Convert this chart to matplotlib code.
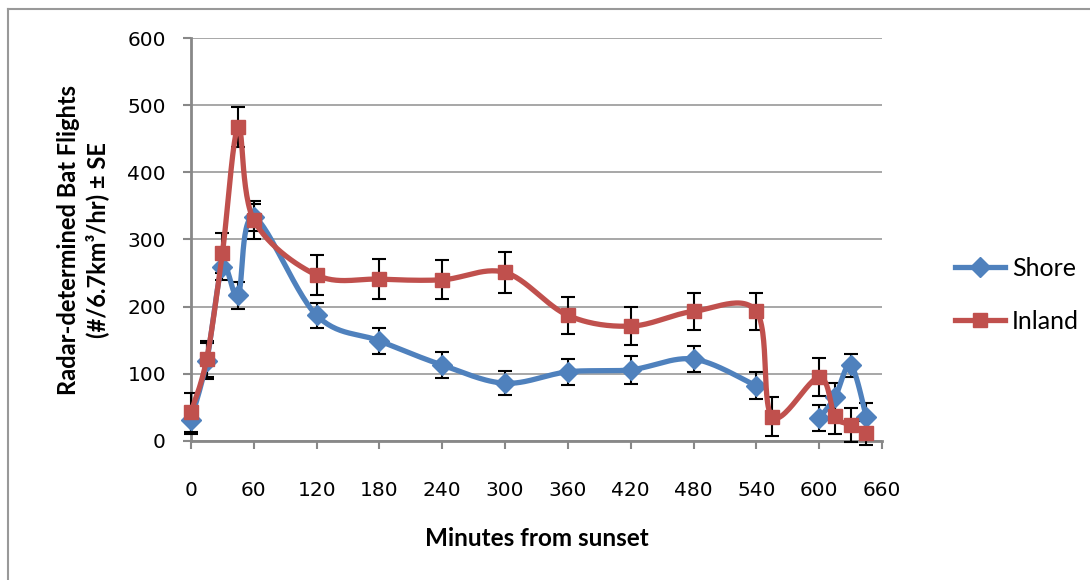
import numpy as np
import matplotlib.pyplot as plt
from matplotlib.lines import Line2D

plt.rcParams['font.family'] = ['Lato', 'DejaVu Sans']

# minutes from sunset (shore has no value at 555, so its line breaks there)
shore_x = [0, 15, 30, 45, 60, 120, 180, 240, 300, 360, 420, 480, 540, 555, 600, 615, 630, 645]
shore_y = [31, 119, 259, 217, 333, 187, 149, 113, 86, 103, 106, 122, 82, np.nan, 34, 65, 113, 36]
shore_se = [20, 27, 20, 20, 20, 19, 19, 19, 18, 19, 21, 20, 20, np.nan, 19, 22, 17, 21]

inland_x = [0, 15, 30, 45, 60, 120, 180, 240, 300, 360, 420, 480, 540, 555, 600, 615, 630, 645]
inland_y = [43, 122, 280, 467, 329, 247, 241, 240, 251, 187, 171, 193, 193, 36, 95, 37, 24, 12]
inland_se = [29, 27, 30, 30, 28, 30, 30, 29, 30, 28, 28, 28, 28, 29, 28, 27, 25, 18]

x_ticks = list(range(0, 661, 60))
y_ticks = list(range(0, 601, 100))

blue = '#4F81BD'
red = '#C0504D'


def smooth(ax, xs, ys, n=30):
    # excel style smoothed line: catmull-rom bezier in screen space
    ax.figure.canvas.draw()
    pts = ax.transData.transform(np.column_stack([xs, ys]))
    out = [pts[0]]
    for i in range(len(pts) - 1):
        p0 = pts[i - 1] if i > 0 else pts[i]
        p1 = pts[i]
        p2 = pts[i + 1]
        p3 = pts[i + 2] if i + 2 < len(pts) else pts[i + 1]
        c1 = p1 + (p2 - p0) / 6.0
        c2 = p2 - (p3 - p1) / 6.0
        t = np.linspace(0, 1, n)[1:, None]
        seg = ((1 - t) ** 3) * p1 + 3 * ((1 - t) ** 2) * t * c1 + 3 * (1 - t) * t ** 2 * c2 + t ** 3 * p2
        out.extend(seg)
    return ax.transData.inverted().transform(np.array(out))


def draw_series(ax, xs, ys, color, marker, z):
    xs = np.asarray(xs, float)
    ys = np.asarray(ys, float)
    ok = ~np.isnan(ys)
    # split into runs without gaps
    runs = np.split(np.arange(len(ys)), np.where(~ok)[0])
    for r in runs:
        r = r[ok[r]]
        if len(r) < 2:
            continue
        c = smooth(ax, xs[r], ys[r])
        ax.plot(c[:, 0], c[:, 1], color=color, lw=3.8, zorder=z, clip_on=False, solid_capstyle='round')
    ax.plot(xs[ok], ys[ok], ls='none', marker=marker, ms=10, color=color, zorder=z + 1, clip_on=False)


fig = plt.figure(figsize=(10.9, 5.8), dpi=100)
ax = fig.add_axes([191 / 1090, 1 - 441 / 580, (882 - 191) / 1090, (441 - 38) / 580])

ax.set_xlim(0, 660)
ax.set_ylim(0, 600)
ax.set_xticks(x_ticks)
ax.set_yticks(y_ticks)
ax.tick_params(axis='both', length=6, width=1.5, color='#888888', direction='out')
ax.tick_params(axis='y', pad=12)
ax.tick_params(axis='x', pad=23)
for lab in ax.get_xticklabels() + ax.get_yticklabels():
    lab.set_fontfamily(['DejaVu Sans'])
    lab.set_fontsize(14.5)
ax.grid(axis='y', color='#A0A0A0', lw=1.3)
ax.set_axisbelow(True)
for s in ['top', 'right']:
    ax.spines[s].set_visible(False)
for s in ['left', 'bottom']:
    ax.spines[s].set_color('#888888')
    ax.spines[s].set_linewidth(2)

ax.errorbar(shore_x, shore_y, yerr=shore_se, fmt='none', ecolor='black', elinewidth=1.5,
            capsize=5, capthick=1.5, zorder=3, clip_on=False)
ax.errorbar(inland_x, inland_y, yerr=inland_se, fmt='none', ecolor='black', elinewidth=1.5,
            capsize=5, capthick=1.5, zorder=3, clip_on=False)

draw_series(ax, shore_x, shore_y, blue, 'D', 4)
draw_series(ax, inland_x, inland_y, red, 's', 6)

fig.text(537 / 1090, 1 - 538 / 580, 'Minutes from sunset', ha='center', va='center',
         fontsize=17.5, fontweight='bold')
fig.text(83 / 1090, 1 - 240 / 580, 'Radar-determined Bat Flights\n(#/6.7km³/hr) ± SE', rotation=90,
         ha='center', va='center', fontsize=17, fontweight='bold', linespacing=1.3)

handles = [Line2D([], [], color=blue, lw=3.8, marker='D', ms=10),
           Line2D([], [], color=red, lw=3.8, marker='s', ms=10)]
fig.legend(handles, ['Shore', 'Inland'], loc='center left', bbox_to_anchor=(932 / 1090, 1 - 295 / 580),
           frameon=False, fontsize=18, handlelength=2.0, labelspacing=1.2, handletextpad=0.3)

# outer chart border
fig.add_artist(Line2D([8 / 1090, 1], [1 - 9 / 580, 1 - 9 / 580], color='#999999', lw=1.5))
fig.add_artist(Line2D([8 / 1090, 8 / 1090], [0, 1 - 9 / 580], color='#999999', lw=1.5))

fig.savefig('out.png', dpi=100)
